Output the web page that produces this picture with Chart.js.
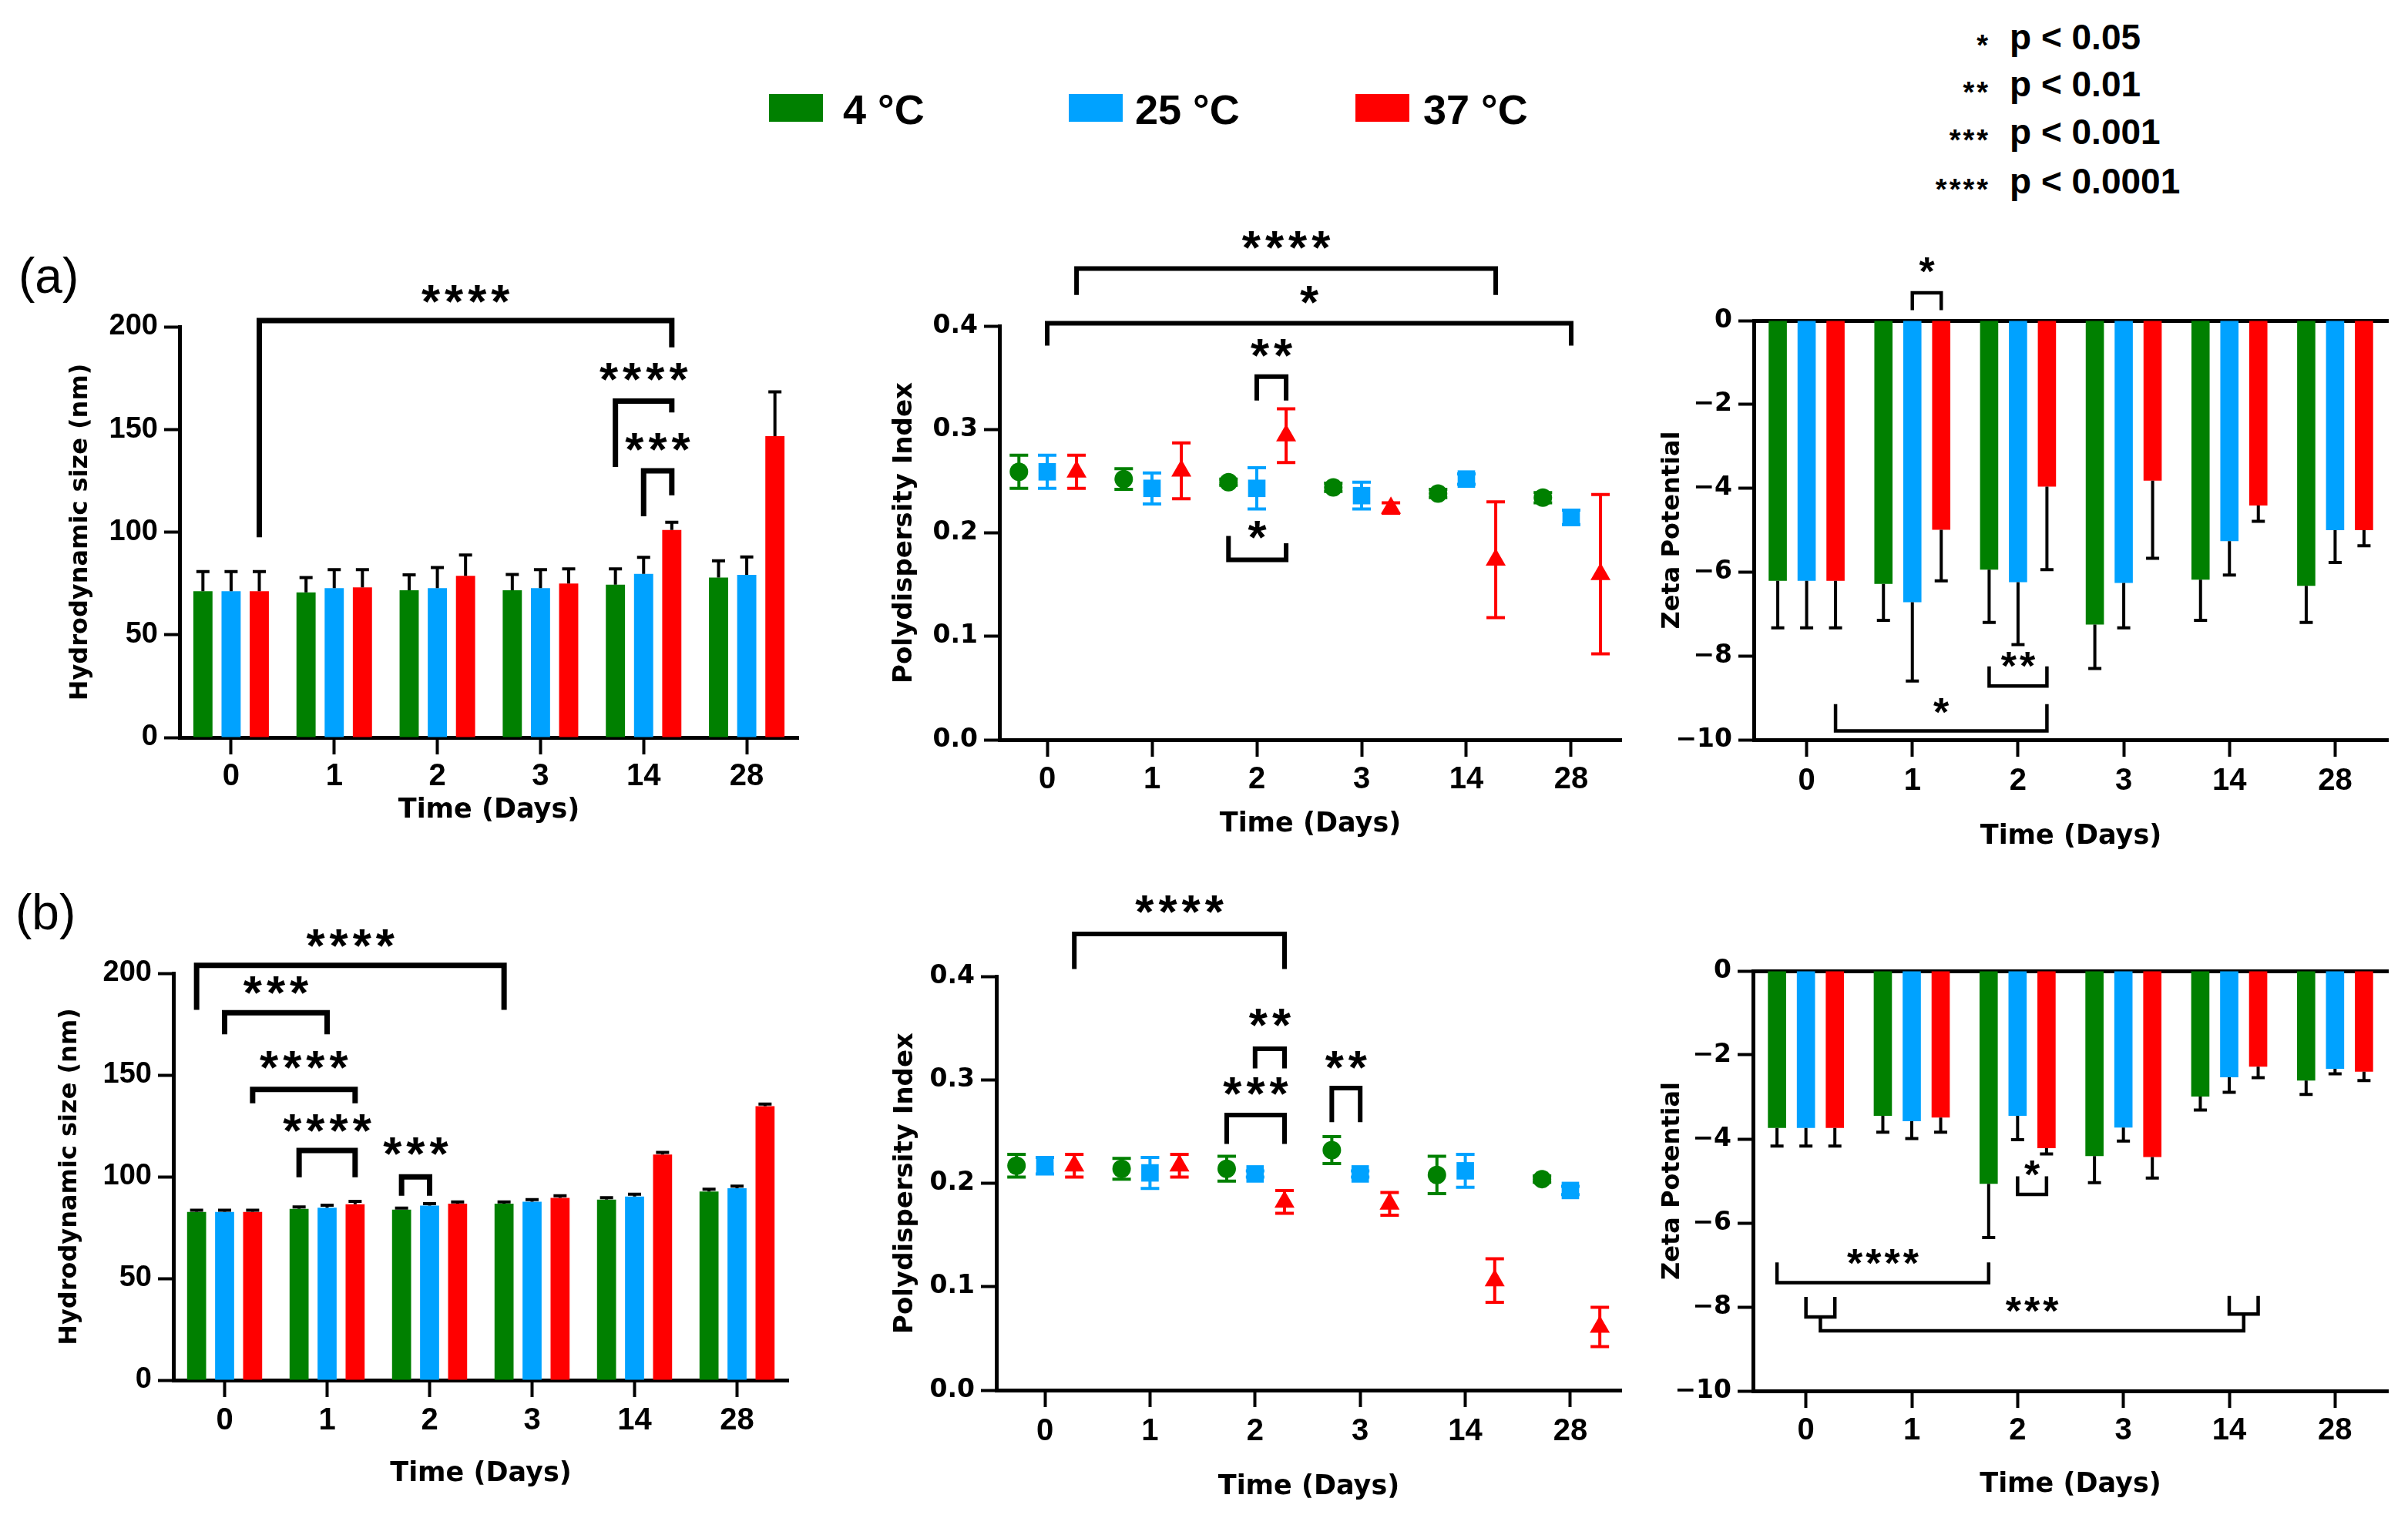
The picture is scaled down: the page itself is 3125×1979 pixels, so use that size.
<!DOCTYPE html>
<html>
<head>
<meta charset="utf-8">
<script src="https://cdn.jsdelivr.net/npm/chart.js@4.4.1/dist/chart.umd.min.js"></script>
<style>
  html, body { margin: 0; padding: 0; background: #fff; }
  body { width: 3125px; height: 1979px; position: relative; overflow: hidden; }
  canvas { position: absolute; }
  .txt { position: absolute; white-space: nowrap; line-height: 1; color: #000; font-family: "Liberation Sans", Arial, sans-serif; font-weight: bold; }
  .key { position: absolute; width: 70px; height: 36px; top: 122px; }
  .lbl { font-family: "Liberation Sans Narrow", "Liberation Sans", sans-serif; font-weight: normal; font-size: 64px; }
  .stars { font-size: 38px; letter-spacing: 3px; text-align: right; }
</style>
</head>
<body>

<div class="key" style="left:998px;background:#008000"></div>
<div class="txt" style="left:1094px;top:115px;font-size:54px">4 °C</div>
<div class="key" style="left:1387px;background:#00A2FF"></div>
<div class="txt" style="left:1473px;top:115px;font-size:54px">25 °C</div>
<div class="key" style="left:1759px;background:#FF0000"></div>
<div class="txt" style="left:1847px;top:115px;font-size:54px">37 °C</div>

<div class="txt stars" style="right:542px;top:40px">*</div>
<div class="txt" style="left:2608px;top:25px;font-size:46px">p &lt; 0.05</div>
<div class="txt stars" style="right:542px;top:101px">**</div>
<div class="txt" style="left:2608px;top:86px;font-size:46px">p &lt; 0.01</div>
<div class="txt stars" style="right:542px;top:163px">***</div>
<div class="txt" style="left:2608px;top:148px;font-size:46px">p &lt; 0.001</div>
<div class="txt stars" style="right:542px;top:227px">****</div>
<div class="txt" style="left:2608px;top:212px;font-size:46px">p &lt; 0.0001</div>

<div class="txt lbl" style="left:24px;top:326px">(a)</div>
<div class="txt lbl" style="left:20px;top:1152px">(b)</div>

<script>
// categories and series
const days = ['0', '1', '2', '3', '14', '28'];
const temps = ['4 °C', '25 °C', '37 °C'];

// (a) hydrodynamic size, nm
const sizeA4 = [71.2, 70.6, 71.7, 71.7, 74.4, 77.9];
const sizeA4Err = [9.6, 7.3, 7.5, 7.7, 7.7, 8.1];
const sizeA25 = [71.2, 72.7, 72.7, 72.7, 79.6, 79.2];
const sizeA25Err = [9.6, 9.0, 10.0, 9.0, 8.1, 8.7];
const sizeA37 = [71.2, 73.1, 78.7, 75.0, 101.0, 146.7];
const sizeA37Err = [9.6, 8.6, 10.1, 7.1, 3.8, 21.6];

// (a) polydispersity index
const pdiA4 = [0.259, 0.252, 0.249, 0.244, 0.238, 0.234];
const pdiA4Err = [0.016, 0.010, 0.003, 0.004, 0.004, 0.005];
const pdiA25 = [0.259, 0.243, 0.243, 0.236, 0.252, 0.215];
const pdiA25Err = [0.016, 0.015, 0.020, 0.013, 0.005, 0.007];
const pdiA37 = [0.259, 0.260, 0.294, 0.224, 0.174, 0.160];
const pdiA37Err = [0.016, 0.027, 0.026, 0.005, 0.056, 0.077];

// (a) zeta potential
const zetaA4 = [-6.21, -6.28, -5.94, -7.25, -6.18, -6.33];
const zetaA4Err = [1.12, 0.87, 1.26, 1.05, 0.97, 0.87];
const zetaA25 = [-6.21, -6.72, -6.24, -6.26, -5.26, -5.00];
const zetaA25Err = [1.12, 1.88, 1.49, 1.07, 0.81, 0.77];
const zetaA37 = [-6.21, -4.99, -3.96, -3.82, -4.41, -5.00];
const zetaA37Err = [1.12, 1.22, 1.98, 1.85, 0.38, 0.37];

// (b) hydrodynamic size, nm
const sizeB4 = [82.7, 84.2, 83.8, 86.7, 88.7, 92.7];
const sizeB4Err = [0.8, 0.9, 0.8, 0.9, 1.0, 1.1];
const sizeB25 = [82.7, 84.8, 85.8, 87.7, 90.2, 94.3];
const sizeB25Err = [0.8, 1.2, 0.9, 1.0, 1.2, 1.1];
const sizeB37 = [82.7, 86.5, 86.7, 89.6, 110.9, 134.7];
const sizeB37Err = [0.8, 1.4, 0.9, 1.0, 1.0, 1.0];

// (b) polydispersity index
const pdiB4 = [0.217, 0.214, 0.214, 0.232, 0.208, 0.204];
const pdiB4Err = [0.011, 0.010, 0.012, 0.013, 0.018, 0.003];
const pdiB25 = [0.217, 0.210, 0.209, 0.209, 0.212, 0.193];
const pdiB25Err = [0.008, 0.015, 0.003, 0.003, 0.016, 0.004];
const pdiB37 = [0.217, 0.217, 0.182, 0.180, 0.106, 0.061];
const pdiB37Err = [0.011, 0.011, 0.011, 0.011, 0.021, 0.019];

// (b) zeta potential
const zetaB4 = [-3.74, -3.45, -5.07, -4.41, -2.99, -2.61];
const zetaB4Err = [0.43, 0.39, 1.28, 0.63, 0.32, 0.33];
const zetaB25 = [-3.74, -3.58, -3.45, -3.73, -2.53, -2.33];
const zetaB25Err = [0.43, 0.41, 0.57, 0.32, 0.36, 0.12];
const zetaB37 = [-3.74, -3.49, -4.22, -4.43, -2.28, -2.40];
const zetaB37Err = [0.43, 0.35, 0.14, 0.50, 0.26, 0.21];

// significance brackets: a/b = [day index, series index], heights in data units
const sigA1 = [
  { a: [0, 2], b: [4, 2], y: 203, ya: 97.5, yb: 190, text: '****', ty: 216 },
  { a: [4, 0], b: [4, 2], y: 163.8, ya: 131.7, yb: 158.3, text: '****', ty: 178 },
  { a: [4, 1], b: [4, 2], y: 129.8, ya: 107.7, yb: 117.9, text: '***', ty: 144 },
];
const sigA2 = [
  { a: [0, 2], b: [4, 2], y: 0.4555, ya: 0.430, yb: 0.430, text: '****', ty: 0.483 },
  { a: [0, 1], b: [5, 1], y: 0.4027, ya: 0.381, yb: 0.381, text: '*', ty: 0.430 },
  { a: [2, 1], b: [2, 2], y: 0.351, ya: 0.328, yb: 0.328, text: '**', ty: 0.379 },
  { a: [2, 0], b: [2, 2], y: 0.174, ya: 0.197, yb: 0.190, text: '*', ty: 0.203 },
];
const sigA3 = [
  { a: [1, 1], b: [1, 2], y: 0.66, ya: 0.25, yb: 0.25, text: '*', ty: 1.32 },
  { a: [2, 0], b: [2, 2], y: -8.72, ya: -8.25, yb: -8.25, text: '**', ty: -8.09 },
  { a: [0, 2], b: [2, 2], y: -9.79, ya: -9.15, yb: -9.15, text: '*', ty: -9.19 },
];
const sigB1 = [
  { a: [0, 0], b: [3, 0], y: 203.9, ya: 182, yb: 182, text: '****', ty: 217.4 },
  { a: [0, 1], b: [1, 1], y: 180.6, ya: 170, yb: 170, text: '***', ty: 194.2 },
  { a: [0, 2], b: [1, 2], y: 142.9, ya: 136.1, yb: 136.1, text: '****', ty: 157.4 },
  { a: [1, 0], b: [1, 2], y: 112.9, ya: 99.7, yb: 99.7, text: '****', ty: 126.4 },
  { a: [2, 0], b: [2, 1], y: 99.9, ya: 90.6, yb: 90.6, text: '***', ty: 114.8 },
];
const sigB2 = [
  { a: [0, 2], b: [2, 2], y: 0.441, ya: 0.407, yb: 0.407, text: '****', ty: 0.47 },
  { a: [2, 1], b: [2, 2], y: 0.330, ya: 0.311, yb: 0.311, text: '**', ty: 0.36 },
  { a: [2, 0], b: [2, 2], y: 0.266, ya: 0.238, yb: 0.238, text: '***', ty: 0.294 },
  { a: [3, 0], b: [3, 1], y: 0.292, ya: 0.259, yb: 0.259, text: '**', ty: 0.319 },
];
const sigB3 = [
  { a: [2, 1], b: [2, 2], y: -5.32, ya: -4.89, yb: -4.89, text: '*', ty: -4.70 },
  { a: [0, 0], b: [2, 0], y: -7.42, ya: -6.94, yb: -6.94, text: '****', ty: -6.80 },
  { a: [0, 1], b: [0, 2], y: -8.24, ya: -7.76, yb: -7.76 },
  { a: [4, 1], b: [4, 2], y: -8.17, ya: -7.74, yb: -7.74 },
  { a: [[0, 1], [0, 2]], b: [[4, 1], [4, 2]], y: -8.57, ya: -8.24, yb: -8.17, text: '***', ty: -7.95 },
];

const COLORS = ['#008000', '#00A2FF', '#FF0000'];
const SHAPES = ['circle', 'rect', 'triangle'];
const SHAPE_R = [12, 16, 15];
const PDI_SHIFT = [-0.27, 0, 0.28];
const SANS = '"Liberation Sans", Arial, sans-serif';
const WIDE = '"DejaVu Sans", sans-serif';

function drawErrors(chart) {
  const ctx = chart.ctx;
  const ys = chart.scales.y;
  const bar = chart.config.type === 'bar';
  ctx.save();
  ctx.lineWidth = 4;
  chart.data.datasets.forEach((ds, k) => {
    chart.getDatasetMeta(k).data.forEach((el, i) => {
      const v = bar ? ds.data[i] : ds.data[i].y;
      const e = ds.err[i];
      const cap = bar ? 8.5 : 12;
      const ends = bar ? [v + Math.sign(v) * e] : [v + e, v - e];
      const y0 = bar ? el.y : ys.getPixelForValue(v);
      ctx.strokeStyle = bar ? '#000' : ds.pointBackgroundColor;
      ctx.beginPath();
      ends.forEach(end => {
        const y1 = ys.getPixelForValue(end);
        ctx.moveTo(el.x, y0);
        ctx.lineTo(el.x, y1);
        ctx.moveTo(el.x - cap, y1);
        ctx.lineTo(el.x + cap, y1);
      });
      ctx.stroke();
    });
  });
  ctx.restore();
}

const errorBars = {
  id: 'errorBars',
  beforeDatasetsDraw(chart) { if (chart.config.type !== 'bar') drawErrors(chart); },
  afterDatasetsDraw(chart) { if (chart.config.type === 'bar') drawErrors(chart); },
};

function sigPlugin(items, st) {
  return {
    id: 'sig',
    afterDraw(chart) {
      const ctx = chart.ctx;
      const ys = chart.scales.y;
      const px = ref => Array.isArray(ref[0])
        ? (px(ref[0]) + px(ref[1])) / 2
        : chart.getDatasetMeta(ref[1]).data[ref[0]].x;
      ctx.save();
      ctx.strokeStyle = '#000';
      ctx.fillStyle = '#000';
      ctx.lineJoin = 'miter';
      items.forEach(it => {
        const xa = px(it.a), xb = px(it.b);
        ctx.lineWidth = st.lw;
        ctx.beginPath();
        ctx.moveTo(xa, ys.getPixelForValue(it.ya));
        ctx.lineTo(xa, ys.getPixelForValue(it.y));
        ctx.lineTo(xb, ys.getPixelForValue(it.y));
        ctx.lineTo(xb, ys.getPixelForValue(it.yb));
        ctx.stroke();
        if (it.text) {
          ctx.font = 'bold ' + st.fs + 'px ' + SANS;
          ctx.letterSpacing = st.ls + 'px';
          ctx.textAlign = 'center';
          ctx.textBaseline = 'alphabetic';
          const m = ctx.measureText(it.text);
          const cy = ys.getPixelForValue(it.ty) + (m.actualBoundingBoxAscent - m.actualBoundingBoxDescent) / 2;
          ctx.fillText(it.text, (xa + xb) / 2 + st.ls / 2, cy);
        }
      });
      ctx.restore();
    },
  };
}

function buildPanel(p) {
  const cv = document.createElement('canvas');
  cv.width = p.box.w;
  cv.height = p.box.h;
  cv.style.left = p.box.x + 'px';
  cv.style.top = p.box.y + 'px';
  document.body.appendChild(cv);

  const bottom = p.box.y + p.box.h;
  const isBar = p.kind === 'bar';
  const tickFontX = { family: SANS, weight: 'bold', size: 40 };
  const yTitleFont = { family: WIDE, weight: 'bold', size: p.yTitleSize || 32 };
  const xTitleFont = { family: WIDE, weight: 'bold', size: 35 };
  const axisLine = { color: '#000', width: 5 };

  const xScale = {
    type: isBar ? 'category' : 'linear',
    grid: { offset: false, drawOnChartArea: false, tickLength: 22, tickWidth: 4, tickColor: '#000' },
    border: axisLine,
    ticks: {
      font: tickFontX, color: '#000', autoSkip: false, maxRotation: 0,
      padding: Math.max(0, p.xLabelY - p.plot.b - 22 - tickFontX.size * 0.6),
    },
    title: {
      display: true, text: 'Time (Days)', font: xTitleFont, color: '#000',
      padding: { top: 0, bottom: bottom - p.xTitleY - xTitleFont.size * 0.6 },
    },
    afterFit: s => { s.height = bottom - p.plot.b; },
  };
  if (!isBar) {
    xScale.min = p.xMin;
    xScale.max = p.xMax;
    xScale.afterBuildTicks = s => { s.ticks = days.map((d, i) => ({ value: i })); };
    xScale.ticks.callback = v => days[v];
  }

  const scales = {
    x: xScale,
    y: {
      min: p.y.min, max: p.y.max,
      grid: { drawOnChartArea: false, tickLength: 20, tickWidth: 4, tickColor: '#000' },
      border: axisLine,
      ticks: { stepSize: p.y.step, callback: p.y.fmt, font: p.yTickFont, color: '#000', padding: 8 },
      title: {
        display: true, text: p.yTitle, font: yTitleFont, color: '#000',
        padding: { top: p.yTitleX - p.box.x - yTitleFont.size * 0.6, bottom: 0 },
      },
      afterFit: s => { s.width = p.plot.l - p.box.x; },
    },
  };
  if (p.topLine) {
    scales.xTop = {
      type: 'category', position: 'top',
      grid: { display: false }, ticks: { display: false },
      border: axisLine,
      afterFit: s => { s.height = 0; },
    };
  }

  const datasets = p.series.map((vals, k) => isBar ? {
    label: temps[k], data: vals, err: p.errors[k],
    backgroundColor: COLORS[k], borderWidth: 0,
    categoryPercentage: 0.82, barPercentage: p.barPct,
  } : {
    label: temps[k], data: vals.map((v, i) => ({ x: i + PDI_SHIFT[k], y: v })), err: p.errors[k],
    pointStyle: SHAPES[k], pointRadius: SHAPE_R[k],
    pointBackgroundColor: COLORS[k], pointBorderWidth: 0, showLine: false,
  });

  new Chart(cv, {
    type: isBar ? 'bar' : 'scatter',
    data: { labels: days, datasets },
    options: {
      responsive: false, animation: false, devicePixelRatio: 1, events: [],
      layout: { padding: { left: 0, top: p.plot.t - p.box.y, right: p.box.x + p.box.w - p.plot.r, bottom: 0 } },
      plugins: { legend: { display: false }, tooltip: { enabled: false } },
      scales,
    },
    plugins: [errorBars, sigPlugin(p.sig, p.sigStyle)],
  });
}

const sizeAxis = { min: 0, max: 200, step: 50, fmt: v => String(v) };
const pdiAxis = { min: 0, max: 0.4, step: 0.1, fmt: v => v.toFixed(1) };
const zetaAxis = { min: -10, max: 0, step: 2, fmt: v => v === 0 ? '0' : '\u2212' + Math.abs(v) };
const sizeTick = { family: SANS, weight: 'bold', size: 38 };
const narrowTick = { family: WIDE, weight: 'bold', size: 33 };
const heavyStars = { lw: 7, fs: 62, ls: 6 };
const pdiStars = { lw: 6, fs: 62, ls: 6 };
const zetaStars = { lw: 4.5, fs: 52, ls: 4 };

buildPanel({
  kind: 'bar', box: { x: 0, y: 260, w: 1060, h: 860 }, plot: { l: 233, r: 1036, t: 424, b: 957 },
  yTitleX: 105, xTitleY: 1052, xLabelY: 1008,
  series: [sizeA4, sizeA25, sizeA37], errors: [sizeA4Err, sizeA25Err, sizeA37Err],
  y: sizeAxis, yTickFont: sizeTick, yTitle: 'Hydrodynamic size (nm)', barPct: 0.68,
  sig: sigA1, sigStyle: heavyStars,
});
buildPanel({
  kind: 'scatter', box: { x: 1060, y: 260, w: 1060, h: 860 }, plot: { l: 1297, r: 2104, t: 423, b: 960 },
  xMin: -0.456, xMax: 5.478, yTitleX: 1174, xTitleY: 1070, xLabelY: 1012, yTitleSize: 34,
  series: [pdiA4, pdiA25, pdiA37], errors: [pdiA4Err, pdiA25Err, pdiA37Err],
  y: pdiAxis, yTickFont: narrowTick, yTitle: 'Polydispersity Index',
  sig: sigA2, sigStyle: pdiStars,
});
buildPanel({
  kind: 'bar', box: { x: 2120, y: 260, w: 1005, h: 860 }, plot: { l: 2276, r: 3099, t: 416, b: 960 },
  yTitleX: 2171, xTitleY: 1086, xLabelY: 1014, topLine: true,
  series: [zetaA4, zetaA25, zetaA37], errors: [zetaA4Err, zetaA25Err, zetaA37Err],
  y: zetaAxis, yTickFont: narrowTick, yTitle: 'Zeta Potential', barPct: 0.63,
  sig: sigA3, sigStyle: zetaStars,
});
buildPanel({
  kind: 'bar', box: { x: 0, y: 1130, w: 1060, h: 849 }, plot: { l: 225, r: 1023, t: 1263, b: 1791 },
  yTitleX: 91, xTitleY: 1913, xLabelY: 1844,
  series: [sizeB4, sizeB25, sizeB37], errors: [sizeB4Err, sizeB25Err, sizeB37Err],
  y: sizeAxis, yTickFont: sizeTick, yTitle: 'Hydrodynamic size (nm)', barPct: 0.68,
  sig: sigB1, sigStyle: heavyStars,
});
buildPanel({
  kind: 'scatter', box: { x: 1060, y: 1130, w: 1060, h: 849 }, plot: { l: 1293, r: 2104, t: 1267, b: 1804 },
  xMin: -0.462, xMax: 5.484, yTitleX: 1175, xTitleY: 1930, xLabelY: 1858, yTitleSize: 34,
  series: [pdiB4, pdiB25, pdiB37], errors: [pdiB4Err, pdiB25Err, pdiB37Err],
  y: pdiAxis, yTickFont: narrowTick, yTitle: 'Polydispersity Index',
  sig: sigB2, sigStyle: pdiStars,
});
buildPanel({
  kind: 'bar', box: { x: 2120, y: 1130, w: 1005, h: 849 }, plot: { l: 2275, r: 3099, t: 1260, b: 1805 },
  yTitleX: 2171, xTitleY: 1927, xLabelY: 1857, topLine: true,
  series: [zetaB4, zetaB25, zetaB37], errors: [zetaB4Err, zetaB25Err, zetaB37Err],
  y: zetaAxis, yTickFont: narrowTick, yTitle: 'Zeta Potential', barPct: 0.63,
  sig: sigB3, sigStyle: zetaStars,
});
</script>
</body>
</html>
